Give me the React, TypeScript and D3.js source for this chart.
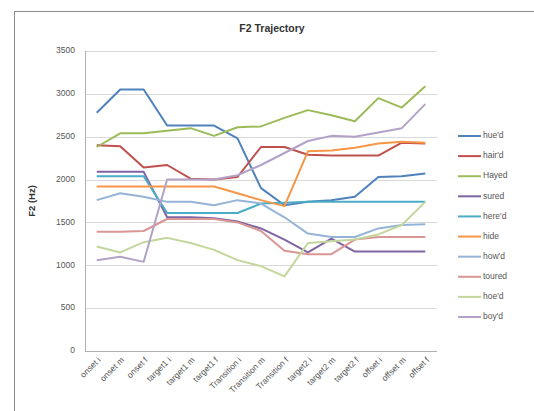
import * as d3 from 'd3'

const CATEGORIES = [
  'onset i', 'onset m', 'onset f',
  'target1 i', 'target1 m', 'target1 f',
  'Transition i', 'Transition m', 'Transition f',
  'target2 i', 'target2 m', 'target2 f',
  'offset i', 'offset m', 'offset f',
]

const Y_TICKS = [0, 500, 1000, 1500, 2000, 2500, 3000, 3500]

// F2 values (Hz) per vowel
const HUED = [2780, 3050, 3050, 2630, 2630, 2630, 2480, 1900, 1700, 1740, 1760, 1800, 2030, 2040, 2070]
const HAIRD = [2400, 2390, 2140, 2170, 2010, 2000, 2030, 2380, 2380, 2290, 2280, 2280, 2280, 2430, 2420]
const HAYED = [2380, 2540, 2540, 2570, 2600, 2510, 2610, 2620, 2720, 2810, 2750, 2680, 2950, 2840, 3090]
const SURED = [2090, 2090, 2090, 1560, 1560, 1550, 1510, 1430, 1300, 1150, 1310, 1160, 1160, 1160, 1160]
const HERED = [2040, 2040, 2040, 1610, 1610, 1610, 1610, 1720, 1730, 1740, 1740, 1740, 1740, 1740, 1740]
const HIDE = [1920, 1920, 1920, 1920, 1920, 1920, 1840, 1760, 1690, 2330, 2340, 2370, 2420, 2440, 2430]
const HOWD = [1760, 1840, 1800, 1740, 1740, 1700, 1760, 1720, 1560, 1370, 1330, 1330, 1430, 1470, 1480]
const TOURED = [1390, 1390, 1400, 1540, 1540, 1540, 1500, 1400, 1170, 1130, 1130, 1300, 1330, 1330, 1330]
const HOED = [1220, 1150, 1270, 1320, 1260, 1180, 1060, 990, 870, 1260, 1280, 1300, 1360, 1470, 1740]
const BOYD = [1060, 1100, 1040, 2000, 2000, 2000, 2050, 2170, 2310, 2450, 2510, 2500, 2550, 2600, 2880]

const SERIES_NAMES = ["hue'd", "hair'd", 'Hayed', 'sured', "here'd", 'hide', "how'd", 'toured', "hoe'd", "boy'd"]
const SERIES_VALUES = [HUED, HAIRD, HAYED, SURED, HERED, HIDE, HOWD, TOURED, HOED, BOYD]
const COLORS = ['#4F81BD', '#C0504D', '#9BBB59', '#8064A2', '#4BACC6', '#F79646', '#95B3D7', '#D99694', '#C3D69B', '#B3A2C7']

const FONT = "'Liberation Sans', Arial, sans-serif"

export default function App() {
  const W = 534
  const H = 411
  const plot = { left: 85, right: 437, top: 51, bottom: 351 }

  const x = d3.scaleBand().domain(CATEGORIES).range([plot.left, plot.right])
  const y = d3.scaleLinear().domain([0, 3500]).range([plot.bottom, plot.top])
  const cx = (c: string) => (x(c) ?? 0) + x.bandwidth() / 2

  const line = d3
    .line<number>()
    .x((_, i) => cx(CATEGORIES[i]))
    .y((d) => y(d))

  const legendY = d3.scalePoint().domain(SERIES_NAMES).range([136, 317])

  return (
    <svg
      width={W}
      height={H}
      style={{ position: 'fixed', left: 0, top: 0, background: '#fff' }}
      fontFamily={FONT}
    >
      <rect x={14.5} y={11.5} width={560} height={420} fill="#fff" stroke="#8c8c8c" strokeWidth={1} />

      <text x={272} y={32} textAnchor="middle" fontSize={10.5} fontWeight="bold" fill="#333">
        F2 Trajectory
      </text>

      {/* gridlines + y ticks */}
      {Y_TICKS.map((t) => (
        <g key={t}>
          <line x1={plot.left} x2={plot.right} y1={Math.round(y(t)) + 0.5} y2={Math.round(y(t)) + 0.5} stroke="#d9d9d9" />
          <text x={plot.left - 10} y={y(t)} textAnchor="end" dominantBaseline="middle" fontSize={8.5} fill="#555">
            {t}
          </text>
        </g>
      ))}
      <line x1={plot.left + 0.5} x2={plot.left + 0.5} y1={plot.top} y2={plot.bottom} stroke="#b0b0b0" />
      <line x1={plot.left} x2={plot.right} y1={plot.bottom + 0.5} y2={plot.bottom + 0.5} stroke="#b0b0b0" />

      <text
        transform={`translate(35,${(plot.top + plot.bottom) / 2}) rotate(-90)`}
        textAnchor="middle"
        fontSize={9.5}
        fontWeight="bold"
        fill="#333"
      >
        F2 (Hz)
      </text>

      {/* x labels */}
      {CATEGORIES.map((c) => (
        <text
          key={c}
          transform={`translate(${cx(c) + 3},${plot.bottom + 8}) rotate(-45)`}
          textAnchor="end"
          dominantBaseline="middle"
          fontSize={8.5}
          fill="#555"
        >
          {c}
        </text>
      ))}

      {/* series */}
      {SERIES_VALUES.map((vals, i) => (
        <path key={SERIES_NAMES[i]} d={line(vals) ?? ''} fill="none" stroke={COLORS[i]} strokeWidth={2} strokeLinejoin="round" />
      ))}

      {/* legend */}
      {SERIES_NAMES.map((n, i) => (
        <g key={n}>
          <line x1={458} x2={481} y1={legendY(n)} y2={legendY(n)} stroke={COLORS[i]} strokeWidth={2} />
          <text x={483} y={legendY(n)} dominantBaseline="middle" fontSize={8.5} fill="#555">
            {n}
          </text>
        </g>
      ))}
    </svg>
  )
}
